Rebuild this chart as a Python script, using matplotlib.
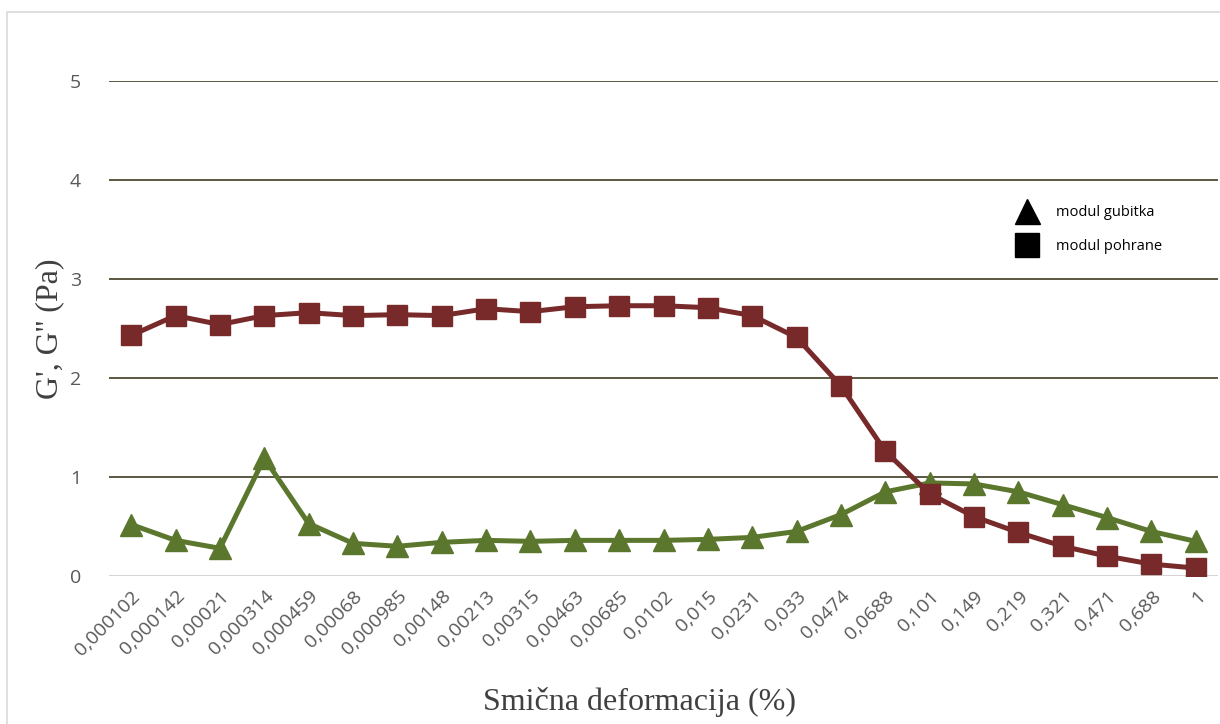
import numpy as np
import matplotlib.pyplot as plt
from matplotlib.patches import Rectangle
from matplotlib.lines import Line2D

# categories (shear strain, %)
strain = ['0,000102', '0,000142', '0,00021', '0,000314', '0,000459', '0,00068',
          '0,000985', '0,00148', '0,00213', '0,00315', '0,00463', '0,00685',
          '0,0102', '0,015', '0,0231', '0,033', '0,0474', '0,0688', '0,101',
          '0,149', '0,219', '0,321', '0,471', '0,688', '1']

# storage modulus G'
pohrane = [2.43, 2.63, 2.54, 2.63, 2.66, 2.63, 2.64, 2.63, 2.70, 2.67, 2.72, 2.73,
           2.73, 2.71, 2.63, 2.41, 1.92, 1.26, 0.83, 0.60, 0.44, 0.30, 0.20, 0.12, 0.08]

# loss modulus G''
gubitka = [0.52, 0.36, 0.28, 1.19, 0.53, 0.33, 0.30, 0.34, 0.36, 0.35, 0.36, 0.36,
           0.36, 0.37, 0.39, 0.45, 0.62, 0.85, 0.94, 0.93, 0.85, 0.72, 0.59, 0.45, 0.35]

yticks = [0, 1, 2, 3, 4, 5]

fig = plt.figure(figsize=(12.2, 7.24), dpi=100)
fig.patches.append(Rectangle((7 / 1220, -0.1), 1.2, 1 - 12 / 724 + 0.1,
                             transform=fig.transFigure, fill=False,
                             edgecolor='#d9d9d9', linewidth=1.2))

ax = fig.add_axes([109 / 1220, 1 - 576 / 724, (1218 - 109) / 1220, (576 - 81) / 724])
x = np.arange(len(strain))

for v in yticks[1:]:
    ax.axhline(v, color='#4d4a33', linewidth=1.3, zorder=0)
ax.axhline(0, color='#d0d0d0', linewidth=1.3, zorder=0)

ax.plot(x, gubitka, color='#5b772d', linewidth=3.6, marker='^', markersize=16, zorder=3)
ax.plot(x, pohrane, color='#782a2a', linewidth=3.6, marker='s', markersize=15, zorder=4)

ax.set_xlim(-0.5, len(strain) - 0.5)
ax.set_ylim(0, 5)
for s in ax.spines.values():
    s.set_visible(False)

ax.set_yticks(yticks)
ax.set_yticklabels([str(v) for v in yticks], fontsize=14, color='#595959', family='Open Sans')
ax.set_xticks(x)
ax.set_xticklabels(strain, rotation=45, ha='right', rotation_mode='anchor',
                   fontsize=14, color='#595959', family='Open Sans')
ax.tick_params(length=0, axis='y', pad=20)
ax.tick_params(length=0, axis='x', pad=8)

ax.set_ylabel("G', G'' (Pa)", fontsize=23, family='Liberation Serif', color='#404040', labelpad=4)
fig.text(0.524, 0.03, 'Smična deformacija (%)', fontsize=23, family='Liberation Serif',
         color='#404040', ha='center', va='center')

handles = [Line2D([], [], color='black', marker='^', linestyle='none', markersize=18),
           Line2D([], [], color='black', marker='s', linestyle='none', markersize=17)]
ax.legend(handles, ['modul gubitka', 'modul pohrane'], loc='upper left',
          bbox_to_anchor=(0.803, 0.775), frameon=False,
          prop={'family': 'Open Sans', 'size': 10.5}, handletextpad=1.0, labelspacing=1.3)

fig.savefig('out.png', dpi=100, facecolor='white')
